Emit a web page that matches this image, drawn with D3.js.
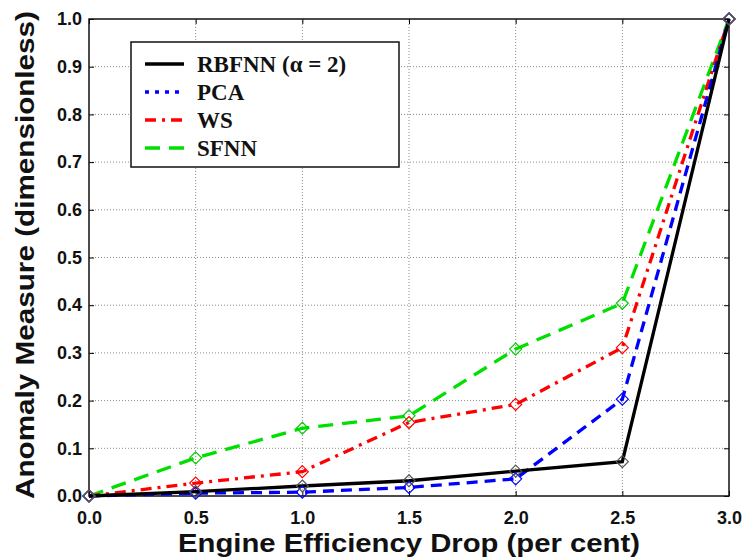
<!DOCTYPE html>
<html>
<head>
<meta charset="utf-8">
<script src="https://cdn.jsdelivr.net/npm/d3@7"></script>
<style>
  body { margin: 0; background: #fff; }
  svg { display: block; }
</style>
</head>
<body>
<div id="chart"></div>
<script>
// data
const drops = [0, 0.5, 1.0, 1.5, 2.0, 2.5, 3.0];
const rbfnn = [0, 0.009, 0.021, 0.032, 0.052, 0.072, 1.0];
const pca   = [0, 0.006, 0.008, 0.018, 0.036, 0.203, 1.0];
const ws    = [0, 0.027, 0.051, 0.154, 0.192, 0.311, 1.0];
const sfnn  = [0, 0.080, 0.142, 0.168, 0.308, 0.404, 1.0];
const xTicks = [0, 0.5, 1.0, 1.5, 2.0, 2.5, 3.0];
const yTicks = [0, 0.1, 0.2, 0.3, 0.4, 0.5, 0.6, 0.7, 0.8, 0.9, 1.0];

const series = [
    {name: "RBFNN (\u03b1 = 2)", values: rbfnn, color: "#000", marker: "#555", dash: null, legendDash: null},
    {name: "PCA", values: pca, color: "#0000ff", marker: "#0000ff", dash: "11,7", legendDash: "4,6"},
    {name: "WS", values: ws, color: "#ff0000", marker: "#ff0000", dash: "11,6,3,6", legendDash: "11,6,3,6"},
    {name: "SFNN", values: sfnn, color: "#00e000", marker: "#00d000", dash: "15,9", legendDash: "15,9"}
];

const width = 744;
const height = 559;
const margin = {top: 19, right: 15, bottom: 63, left: 89};

const svg = d3.select("#chart")
    .append("svg")
    .attr("width", width)
    .attr("height", height);

svg.append("rect").attr("width", width).attr("height", height).attr("fill", "#fff");

const x = d3.scaleLinear()
    .domain([0, 3])
    .range([margin.left, width - margin.right]);

const y = d3.scaleLinear()
    .domain([0, 1])
    .range([height - margin.bottom, margin.top]);

// grid
const grid = svg.append("g").attr("stroke", "#8a8a8a").attr("stroke-width", 1).attr("stroke-dasharray", "1,2");
grid.selectAll(".gx")
    .data(xTicks.slice(1, -1))
    .enter().append("line")
    .attr("x1", d => x(d)).attr("x2", d => x(d))
    .attr("y1", y(0)).attr("y2", y(1));
grid.selectAll(".gy")
    .data(yTicks.slice(1, -1))
    .enter().append("line")
    .attr("x1", x(0)).attr("x2", x(3))
    .attr("y1", d => y(d)).attr("y2", d => y(d));

// axes, ticks pointing inward
const tickFont = g => g.selectAll("text")
    .attr("font-family", "'Liberation Sans', Arial, sans-serif")
    .attr("font-weight", "bold")
    .attr("font-size", 18)
    .attr("fill", "#111");

svg.append("g")
    .attr("transform", `translate(0,${y(0)})`)
    .call(d3.axisBottom(x).tickValues(xTicks).tickFormat(d3.format(".1f")).tickSizeInner(-5).tickSizeOuter(0).tickPadding(15))
    .call(g => g.select(".domain").remove())
    .call(tickFont);

svg.append("g")
    .attr("transform", `translate(${x(0)},0)`)
    .call(d3.axisLeft(y).tickValues(yTicks).tickFormat(d3.format(".1f")).tickSizeInner(-5).tickSizeOuter(0).tickPadding(7))
    .call(g => g.select(".domain").remove())
    .call(tickFont);

svg.append("g")
    .attr("transform", `translate(0,${y(1)})`)
    .call(d3.axisTop(x).tickValues(xTicks).tickFormat("").tickSizeInner(-5).tickSizeOuter(0))
    .call(g => g.select(".domain").remove());

svg.append("g")
    .attr("transform", `translate(${x(3)},0)`)
    .call(d3.axisRight(y).tickValues(yTicks).tickFormat("").tickSizeInner(-5).tickSizeOuter(0))
    .call(g => g.select(".domain").remove());

// frame
svg.append("rect")
    .attr("x", x(0)).attr("y", y(1))
    .attr("width", x(3) - x(0)).attr("height", y(0) - y(1))
    .attr("fill", "none").attr("stroke", "#111").attr("stroke-width", 1.5);

// lines
const line = d3.line()
    .x((d, i) => x(drops[i]))
    .y(d => y(d));

const drawOrder = [series[3], series[2], series[1], series[0]];

svg.append("g")
    .selectAll("path")
    .data(drawOrder)
    .enter().append("path")
    .attr("d", d => line(d.values))
    .attr("fill", "none")
    .attr("stroke", d => d.color)
    .attr("stroke-width", 3.3)
    .attr("stroke-dasharray", d => d.dash);

// diamond markers
const diamond = r => `M0,${-r}L${r},0L0,${r}L${-r},0Z`;
drawOrder.forEach(s => {
    svg.append("g")
        .selectAll("path")
        .data(s.values)
        .enter().append("path")
        .attr("transform", (d, i) => `translate(${x(drops[i])},${y(d)})`)
        .attr("d", diamond(6))
        .attr("fill", "none")
        .attr("stroke", s.marker)
        .attr("stroke-width", 1.2);
});

// legend
const legend = svg.append("g");
legend.append("rect")
    .attr("x", 131).attr("y", 42)
    .attr("width", 268).attr("height", 125)
    .attr("fill", "#fff").attr("stroke", "#111").attr("stroke-width", 1.5);

const rows = legend.selectAll(".row")
    .data(series)
    .enter().append("g")
    .attr("transform", (d, i) => `translate(0,${64 + i * 28})`);

rows.append("line")
    .attr("x1", 145).attr("x2", 184)
    .attr("stroke", d => d.color)
    .attr("stroke-width", 3.3)
    .attr("stroke-dasharray", d => d.legendDash);

rows.append("text")
    .attr("x", 197)
    .attr("y", 8)
    .attr("font-family", "'Liberation Serif', 'Times New Roman', serif")
    .attr("font-weight", "bold")
    .attr("font-size", 23)
    .attr("fill", "#111")
    .text(d => d.name);

// axis titles
svg.append("text")
    .attr("x", 409)
    .attr("y", 552)
    .attr("text-anchor", "middle")
    .attr("font-family", "'Liberation Sans', Arial, sans-serif")
    .attr("font-weight", "bold")
    .attr("font-size", 26)
    .attr("textLength", 462)
    .attr("lengthAdjust", "spacingAndGlyphs")
    .attr("fill", "#111")
    .text("Engine Efficiency Drop (per cent)");

svg.append("text")
    .attr("transform", "translate(34,255) rotate(-90)")
    .attr("text-anchor", "middle")
    .attr("font-family", "'Liberation Sans', Arial, sans-serif")
    .attr("font-weight", "bold")
    .attr("font-size", 26)
    .attr("textLength", 488)
    .attr("lengthAdjust", "spacingAndGlyphs")
    .attr("fill", "#111")
    .text("Anomaly Measure (dimensionless)");
</script>
</body>
</html>
